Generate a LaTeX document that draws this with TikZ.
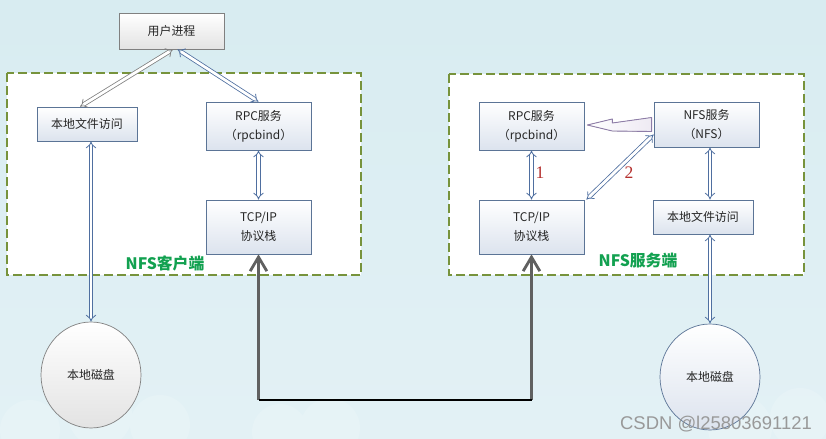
\documentclass[tikz,border=0pt]{standalone}
\usepackage{fontspec}
\setmainfont{Noto Sans CJK SC}
\newfontfamily\numfont{Liberation Serif}
\newfontfamily\markfont{Liberation Sans}
\usepackage{xcolor}
\usepackage{tikz}
\usetikzlibrary{arrows.meta, shapes.geometric, calc}
\definecolor{bgtop}{HTML}{D8ECF1}
\definecolor{bgbottom}{HTML}{E3F1F5}
\definecolor{boxline}{HTML}{5B7496}
\definecolor{boxfill}{HTML}{DCE3EE}
\definecolor{userline}{HTML}{808080}
\definecolor{userfill}{HTML}{E3E3E3}
\definecolor{frameline}{HTML}{77933C}
\definecolor{linkblue}{HTML}{4F6FA0}
\definecolor{fatline}{HTML}{8E7DA8}
\definecolor{fatfill}{HTML}{EEEAF3}
\definecolor{sidegreen}{HTML}{12A150}
\definecolor{numred}{HTML}{B5302E}

\begin{document}
\begin{tikzpicture}[x=0.02cm, y=-0.02cm, font=\fontsize{6.8}{10.8}\selectfont]
\tikzstyle{box}=[draw=boxline, top color=white, bottom color=boxfill, minimum width=2.1cm, align=center, inner sep=1pt, text=black!85]
\tikzstyle{frame}=[draw=frameline, fill=white, line width=1.7pt, dash pattern=on 5pt off 2.4pt]
\tikzstyle{disk}=[ellipse, draw, inner sep=0pt, minimum width=2cm, minimum height=2.12cm, text=black!85]
\tikzstyle{link}=[draw=linkblue, double=white, double distance=1.6pt, line width=0.45pt, {Implies}-{Implies}]
\tikzstyle{fat}=[draw=fatline, line width=0.5pt, left color=white, right color=fatfill, line join=round]
\tikzstyle{net}=[draw=gray!75!black, line width=1.6pt, -{Straight Barb[length=8pt, width=9.5pt]}]
\tikzstyle{side}=[text=sidegreen, font=\fontsize{9}{10}\selectfont\bfseries]
\tikzstyle{num}=[text=numred, font=\fontsize{10}{11}\numfont]

\useasboundingbox (0,0) rectangle (826,439);
\fill[top color=bgtop, bottom color=bgbottom] (0,0) rectangle (826,439);
\fill[white, opacity=.15] (30,430) circle (30) (100,415) circle (32) (160,425) circle (30)
  (280,432) circle (28) (330,428) circle (30) (740,428) circle (32) (800,418) circle (30);

\draw[frame] (7,73) rectangle (361,275);
\draw[frame] (449,74) rectangle (804,275);

\node[box, draw=userline, bottom color=userfill, minimum height=0.72cm] (user) at (171.5,31) {用户进程};
\node[box, minimum width=2cm, minimum height=0.68cm] (cfile) at (87,124) {本地文件访问};
\node[box, minimum height=0.96cm] (crpc) at (258.5,126) {RPC服务\\（rpcbind）};
\node[box, minimum height=1.08cm] (ctcp) at (258.5,227) {TCP/IP\\协议栈};
\node[disk, draw=userline, top color=white, bottom color=userfill] (cdisk) at (91,375) {本地磁盘};
\node[side] (clabel) at (165,263) {NFS客户端};

\node[box, minimum height=0.96cm] (srpc) at (531.5,126) {RPC服务\\（rpcbind）};
\node[box, minimum height=0.9cm] (snfs) at (706.5,124.5) {NFS服务\\（NFS）};
\node[box, minimum height=1.08cm] (stcp) at (531.5,227) {TCP/IP\\协议栈};
\node[box, minimum width=2cm, minimum height=0.68cm] (sfile) at (703,217) {本地文件访问};
\node[disk, draw=boxline, top color=white, bottom color=boxfill] (sdisk) at (710,377) {本地磁盘};
\node[side] (slabel) at (638,261) {NFS服务端};
\node[num] (one) at (540,173) {1};
\node[num] (two) at (629,173) {2};

\path
([xshift=0.03cm]user.south) edge[link, draw=userline] ([xshift=-0.14cm]cfile.north)
([xshift=0.12cm]user.south) edge[link] (crpc.north)
(cdisk.north |- cfile.south) edge[link] (cdisk.north)
(crpc.south) edge[link] (ctcp.north)
(srpc.south) edge[link] (stcp.north)
([yshift=-0.2cm]snfs.west) edge[link] ([xshift=0.04cm]stcp.north east)
(sdisk.north |- snfs.south) edge[link] (sdisk.north |- sfile.north)
(sdisk.north |- sfile.south) edge[link] (sdisk.north);

\filldraw[fat] ($(srpc.east)+(3,-1)$) -- ++(25,-6) -- ++(0,4) -- ($(snfs.west)+(-2,-7)$)
  -- ++(0,14) -- ($(srpc.east)+(28,5)$) -- cycle;

\coordinate (cnet) at (258.5,400);
\coordinate (snet) at (531.5,400);
\draw[net] (cnet) -- (ctcp.south);
\draw[net] (snet) -- (stcp.south);
\draw[line width=1.7pt] (cnet) -- (snet);

\node[font=\fontsize{10.5}{12}\markfont, text=gray!80] (mark) at (716,424) {CSDN @l25803691121};
\end{tikzpicture}
\end{document}
